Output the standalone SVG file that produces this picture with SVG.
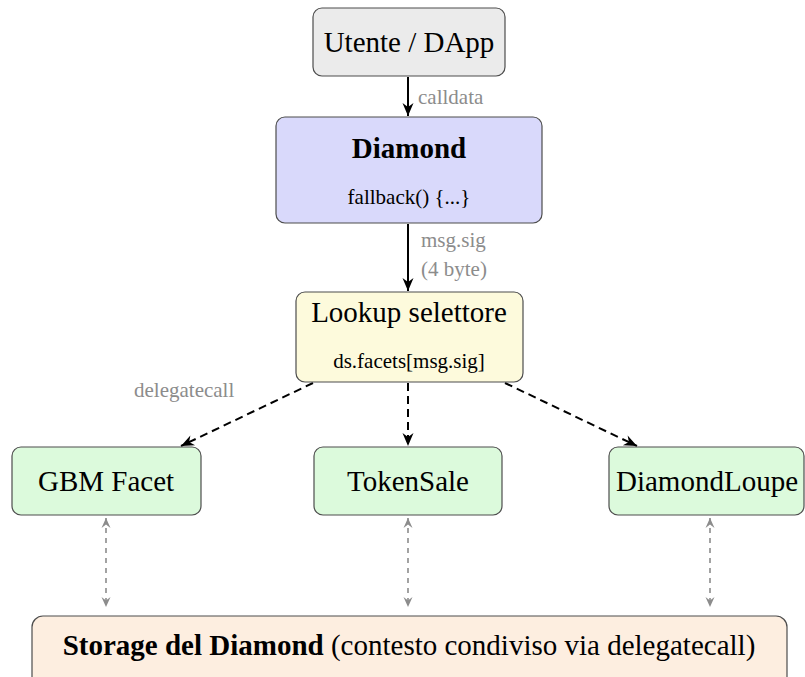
<svg xmlns="http://www.w3.org/2000/svg" width="805" height="677" viewBox="0 0 805 677" font-family="Liberation Serif, serif">
  <style>
    .box { stroke: #4d4d4d; stroke-width: 1.2; }
    .t { fill: #000; text-anchor: middle; }
    .big { font-size: 29px; }
    .small { font-size: 21px; }
    .bold { font-weight: bold; }
    .lbl { font-size: 21px; fill: #8c8c8c; }
    .flow { stroke: #000; stroke-width: 2; fill: none; }
    .dash { stroke-dasharray: 8 5; }
    .mem { stroke: #8c8c8c; stroke-width: 1.6; fill: none; stroke-dasharray: 5 5; }
  </style>
  <defs>
    <marker id="stealth" markerUnits="userSpaceOnUse" markerWidth="16" markerHeight="16" viewBox="-14 -8 16 16" refX="0" refY="0" orient="auto">
      <path d="M0,0 L-13,-5.5 L-9,0 L-13,5.5 Z" fill="#000"/>
    </marker>
    <marker id="stealthGray" markerUnits="userSpaceOnUse" markerWidth="14" markerHeight="14" viewBox="-12 -7 14 14" refX="0" refY="0" orient="auto-start-reverse">
      <path d="M0,0 L-10,-4.5 L-6.5,0 L-10,4.5 Z" fill="#8c8c8c"/>
    </marker>
  </defs>

  <!-- connectors -->
  <g id="connectors">
    <line class="flow" x1="408" y1="77" x2="408" y2="116" marker-end="url(#stealth)"/>
    <text class="lbl" x="418" y="104">calldata</text>

    <line class="flow" x1="408" y1="224" x2="408" y2="291" marker-end="url(#stealth)"/>
    <text class="lbl" x="421" y="247">msg.sig</text>
    <text class="lbl" x="421" y="276">(4 byte)</text>

    <line class="flow dash" x1="313" y1="383" x2="181" y2="446" marker-end="url(#stealth)"/>
    <line class="flow dash" x1="408" y1="383" x2="408" y2="446" marker-end="url(#stealth)"/>
    <line class="flow dash" x1="505" y1="383" x2="637" y2="446" marker-end="url(#stealth)"/>
    <text class="lbl" x="134" y="397">delegatecall</text>

    <line class="mem" x1="106" y1="518" x2="106" y2="607" marker-start="url(#stealthGray)" marker-end="url(#stealthGray)"/>
    <line class="mem" x1="408" y1="518" x2="408" y2="607" marker-start="url(#stealthGray)" marker-end="url(#stealthGray)"/>
    <line class="mem" x1="710" y1="518" x2="710" y2="607" marker-start="url(#stealthGray)" marker-end="url(#stealthGray)"/>
  </g>

  <g id="utente">
    <rect class="box" x="313" y="8" width="192" height="68" rx="9" fill="#ebebeb"/>
    <text class="t big" x="409" y="52">Utente / DApp</text>
  </g>

  <g id="diamond">
    <rect class="box" x="276" y="117" width="266" height="106" rx="9" fill="#d9d9fb"/>
    <text class="t big bold" x="409" y="158">Diamond</text>
    <text class="t small" x="409" y="204">fallback() {...}</text>
  </g>

  <g id="lookup">
    <rect class="box" x="296" y="292" width="227" height="90" rx="9" fill="#fdfadc"/>
    <text class="t big" x="409" y="322">Lookup selettore</text>
    <text class="t small" x="409" y="368">ds.facets[msg.sig]</text>
  </g>

  <g id="gbm-facet">
    <rect class="box" x="12" y="447" width="189" height="68" rx="9" fill="#dcfadc"/>
    <text class="t big" x="106" y="491">GBM Facet</text>
  </g>

  <g id="token-sale">
    <rect class="box" x="314" y="447" width="188" height="68" rx="9" fill="#dcfadc"/>
    <text class="t big" x="408" y="491">TokenSale</text>
  </g>

  <g id="diamond-loupe">
    <rect class="box" x="609" y="447" width="195" height="68" rx="9" fill="#dcfadc"/>
    <text class="t big" x="707" y="491">DiamondLoupe</text>
  </g>

  <g id="storage">
    <rect class="box" x="32" y="616" width="755" height="80" rx="11" fill="#fdeee0"/>
    <text class="t big" x="409" y="655"><tspan class="bold">Storage del Diamond</tspan> (contesto condiviso via delegatecall)</text>
  </g>
</svg>
